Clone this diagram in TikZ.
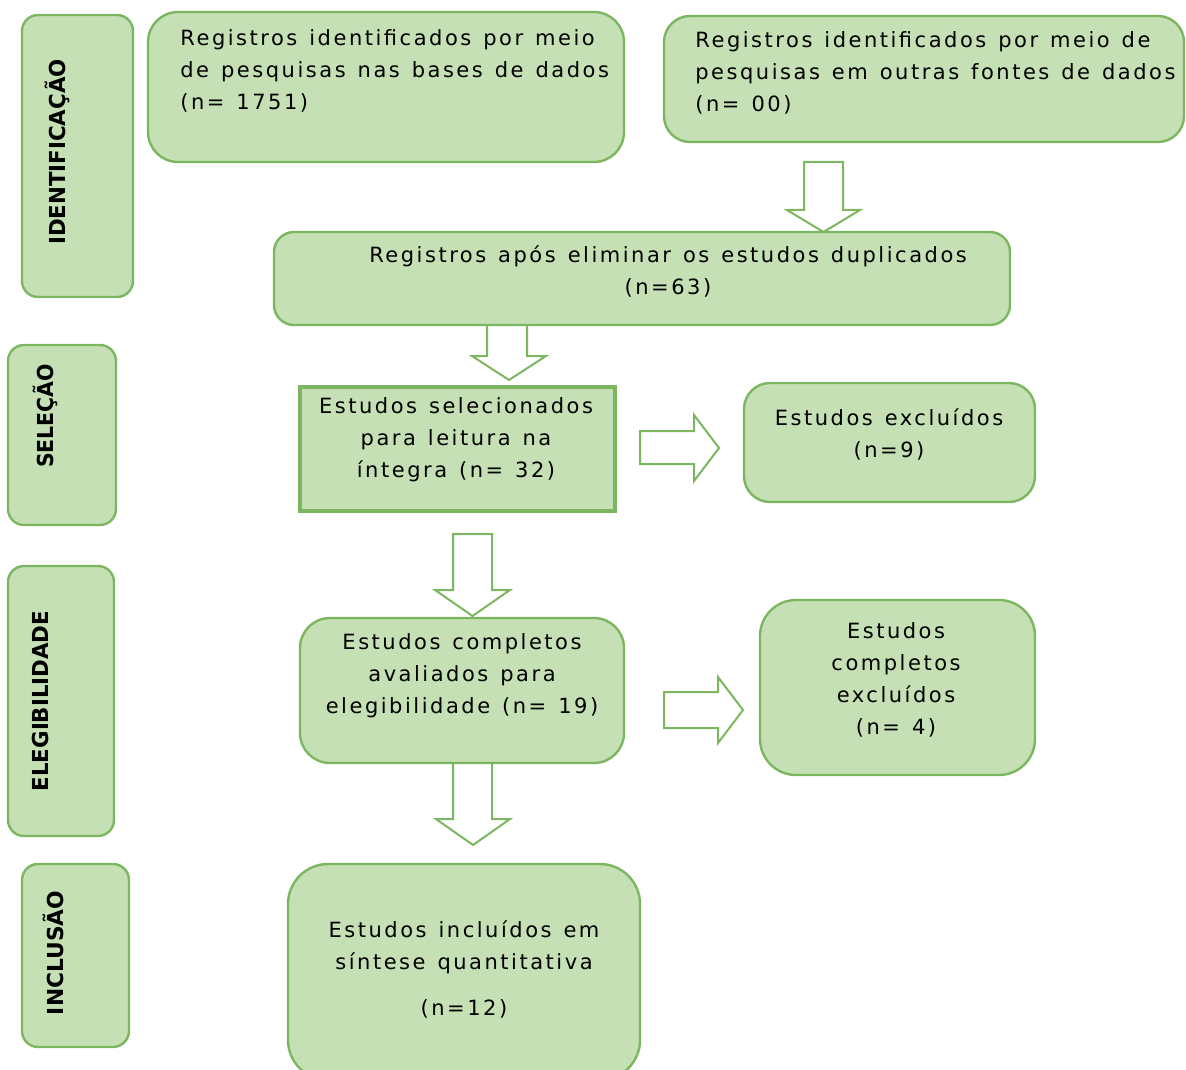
\documentclass[tikz,border=0pt]{standalone}
\usepackage{fontspec}
\setmainfont{DejaVu Sans}
\newfontfamily\widefont[LetterSpace=12,WordSpace=1.3]{DejaVu Sans}
\usepackage{graphicx}
\definecolor{boxfill}{HTML}{C5E0B4}
\definecolor{boxline}{HTML}{7DB660}
\begin{document}
\begin{tikzpicture}[x=0.5pt,y=-0.5pt,
  box/.style={draw=boxline,fill=boxfill,line width=1.2pt,inner sep=0pt,outer sep=0pt},
  txt/.style={inner sep=0pt,font=\widefont\fontsize{10.5}{16}\selectfont,align=center,text=black},
  lbl/.style={inner sep=0pt,rotate=90,font=\bfseries\fontsize{11}{13}\selectfont,text=black},
  blockarrow/.style={draw=boxline,fill=white,line width=1pt,line join=miter}]
\useasboundingbox (0,0) rectangle (1186,1069);
\clip (0,0) rectangle (1186,1069);

% phase labels
\node[box,rounded corners=8pt,minimum width=55.5pt,minimum height=141pt] (lid) at (77.5,156) {};
\node[lbl] (tid) at (57,152) {\scalebox{0.97}[1]{IDENTIFICAÇÃO}};
\node[box,rounded corners=8pt,minimum width=54pt,minimum height=90pt] (lsel) at (62,435) {};
\node[lbl] (tsel) at (45,416) {\scalebox{0.93}[1]{SELEÇÃO}};
\node[box,rounded corners=8pt,minimum width=53pt,minimum height=135pt] (lel) at (61,701) {};
\node[lbl] (tel) at (40,701) {\scalebox{0.97}[1]{ELEGIBILIDADE}};
\node[box,rounded corners=8pt,minimum width=53.5pt,minimum height=91.5pt] (linc) at (75.5,955.5) {};
\node[lbl] (tinc) at (53,953) {\scalebox{0.99}[1]{INCLUSÃO}};

% boxes
\node[box,rounded corners=15pt,minimum width=238pt,minimum height=75pt] (b1) at (386,87) {};
\node[txt,align=left,anchor=north west] (t1) at (180,29) {Registros identificados por meio\\de pesquisas nas bases de dados\\(n= 1751)};
\node[box,rounded corners=13pt,minimum width=260pt,minimum height=63pt] (b2) at (924,79) {};
\node[txt,align=left,anchor=north west] (t2) at (695,31) {Registros identificados por meio de\\pesquisas em outras fontes de dados\\(n= 00)};
\node[box,rounded corners=10pt,minimum width=368pt,minimum height=46.5pt] (b3) at (642,278.5) {};
\node[txt,anchor=north] (t3) at (668,245) {Registros após eliminar os estudos duplicados\\(n=63)};
\node[box,line width=1.8pt,minimum width=157.5pt,minimum height=62pt] (b4) at (457.5,449) {};
\node[txt,anchor=north] (t4) at (456,397) {Estudos selecionados\\para leitura na\\íntegra (n= 32)};
\node[box,rounded corners=13pt,minimum width=145.5pt,minimum height=59.5pt] (b5) at (889.5,442.5) {};
\node[txt,anchor=north] (t5) at (889,408) {Estudos excluídos\\(n=9)};
\node[box,rounded corners=15pt,minimum width=162pt,minimum height=72.5pt] (b6) at (462,690.5) {};
\node[txt,anchor=north] (t6) at (462,633) {Estudos completos\\avaliados para\\elegibilidade (n= 19)};
\node[box,rounded corners=18pt,minimum width=137.5pt,minimum height=87.5pt] (b7) at (897.5,687.5) {};
\node[txt,anchor=north] (t7) at (896,622) {Estudos\\completos\\excluídos\\(n= 4)};
\node[box,rounded corners=20pt,minimum width=176pt,minimum height=108pt] (b8) at (464,972) {};
\node[txt,anchor=north] (t8) at (464,920) {Estudos incluídos em\\síntese quantitativa\\[7pt](n=12)};

% block arrows (down)
\draw[blockarrow] (804,162) -- (843,162) -- (843,210) -- (860,210) -- (823.5,232) -- (787,210) -- (804,210) -- cycle;
\draw[blockarrow] (487,325) -- (527,325) -- (527,356) -- (546,356) -- (509,380) -- (472,356) -- (487,356) -- cycle;
\draw[blockarrow] (453,534) -- (492,534) -- (492,590) -- (510,590) -- (472.5,616) -- (435,590) -- (453,590) -- cycle;
\draw[blockarrow] (453,763) -- (492,763) -- (492,819) -- (510,819) -- (473,845) -- (436,819) -- (453,819) -- cycle;
% block arrows (right)
\draw[blockarrow] (640,431) -- (694,431) -- (694,415) -- (719,448) -- (694,481) -- (694,464) -- (640,464) -- cycle;
\draw[blockarrow] (664,692) -- (718,692) -- (718,677) -- (743,710) -- (718,743) -- (718,728) -- (664,728) -- cycle;
\end{tikzpicture}
\end{document}
